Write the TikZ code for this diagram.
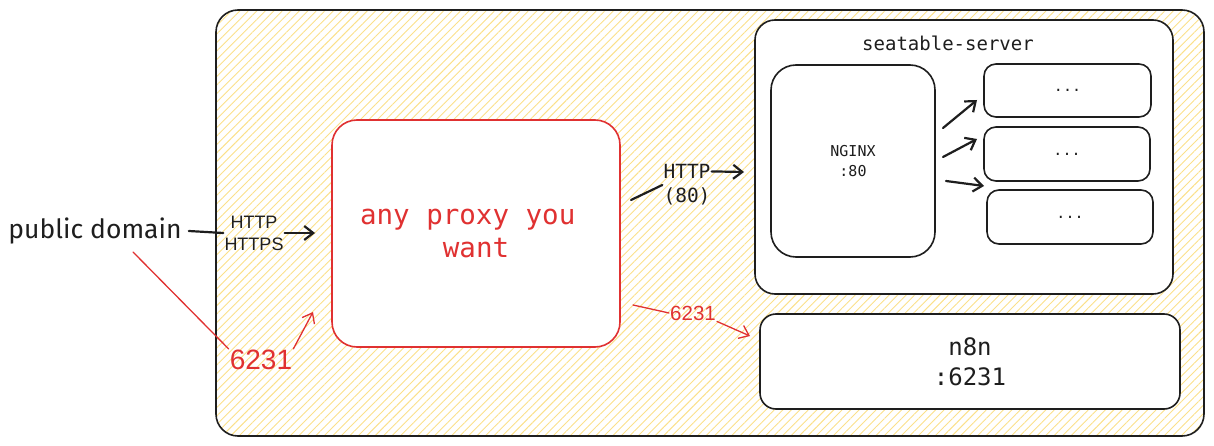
\documentclass[tikz,border=0pt]{standalone}
\usepackage{fontspec}
\setmainfont{Liberation Sans}
\newfontfamily\monof{DejaVu Sans Mono}
\newfontfamily\handf{Fira Sans}
\usetikzlibrary{arrows.meta,patterns.meta}
\definecolor{ink}{HTML}{1E1E1E}
\definecolor{redink}{HTML}{E03131}
\definecolor{hatch}{HTML}{FBE08A}
\tikzset{
  box/.style={draw=ink, line width=1.6pt, fill=white, rounded corners=#1, inner sep=0pt},
  box/.default=20pt,
  conn/.style={draw=ink, line width=2.2pt, line cap=round},
  arr/.style={conn, -{Straight Barb[length=9pt,width=14pt,line width=2.2pt]}},
  redconn/.style={draw=redink, line width=1.3pt, line cap=round},
  redarr/.style={redconn, -{Straight Barb[length=9pt,width=14pt,line width=1.3pt]}},
  lbl/.style={inner sep=1pt, align=center}
}
\begin{document}
\begin{tikzpicture}[x=1pt,y=-1pt]
\useasboundingbox (0,0) rectangle (1214,446);
% outer hatched area
\node[draw=ink, line width=1.6pt, rounded corners=22pt, minimum width=988pt, minimum height=426pt,
  pattern={Lines[angle=45,distance=6pt,line width=0.9pt]}, pattern color=hatch] (outer) at (710,223) {};
% proxy
\node[box=25pt, draw=redink, minimum width=288pt, minimum height=227pt, text=redink, align=center,
  font=\monof\fontsize{27.5}{33}\selectfont] (proxy) at (476,233.5) {any proxy you\phantom{x}\\want};
% seatable server
\node[box=20pt, minimum width=418pt, minimum height=274pt] (server) at (964,157) {};
\node[lbl, font=\monof\fontsize{19}{22}\selectfont, text=ink] (title) at (948,43) {seatable-server};
\node[box=25pt, minimum width=164pt, minimum height=192pt, align=center, text=ink,
  font=\monof\fontsize{15}{20}\selectfont] (nginx) at (853,161) {NGINX\\:80};
\node[box=12pt, minimum width=167pt, minimum height=53pt, text=ink, font=\monof\fontsize{15}{16}\selectfont] (b1) at (1067.5,90.5) {...};
\node[box=12pt, minimum width=166pt, minimum height=54pt, text=ink, font=\monof\fontsize{15}{16}\selectfont] (b2) at (1067,154) {...};
\node[box=12pt, minimum width=166pt, minimum height=54pt, text=ink, font=\monof\fontsize{15}{16}\selectfont] (b3) at (1070,217) {...};
% n8n
\node[box=16pt, minimum width=420pt, minimum height=95pt, align=center, text=ink,
  font=\monof\fontsize{24}{30}\selectfont] (n8n) at (970,361.5) {n8n\\:6231};
% left side
\node[lbl, font=\handf\fontsize{26.5}{28}\selectfont, text=ink] (pd) at (95,231) {public domain};
\node[lbl, font=\fontsize{18}{22}\selectfont, text=ink] (hl) at (254,233) {HTTP\\HTTPS};
\coordinate (pin) at (315,233);
\draw[conn] ([xshift=6pt]pd.east) -- (hl.west);
\draw[arr] (hl.east) -- (pin);
\coordinate (rs) at (133,252);
\node[lbl, font=\fontsize{28}{30}\selectfont, text=redink] (big) at (261,360) {6231};
\draw[redconn] (rs) -- (big.north west);
\coordinate (rin) at (313,312);
\draw[redarr] (big.north east) -- (rin);
% proxy to server
\node[lbl, font=\monof\fontsize{19.5}{24}\selectfont, text=ink] (h80) at (687,185) {HTTP\\(80)};
\coordinate (ps1) at (631,200);
\coordinate (ps2) at (744,172);
\draw[conn] (ps1) -- (h80.west);
\draw[arr] (h80.north east) ++(0,8) -- (ps2);
% proxy to n8n
\node[lbl, font=\fontsize{20.5}{22}\selectfont, text=redink] (s6231) at (693,313) {6231};
\coordinate (pn1) at (633,305);
\coordinate (pn2) at (750,336);
\draw[redconn] (pn1) -- (s6231.west);
\draw[redarr] (s6231.south east) -- (pn2);
% nginx to services
\coordinate (a1) at (943,128); \coordinate (a1e) at (977,100);
\coordinate (a2) at (943,157); \coordinate (a2e) at (977,139);
\coordinate (a3) at (946,181); \coordinate (a3e) at (984,186);
\draw[arr] (a1) -- (a1e);
\draw[arr] (a2) -- (a2e);
\draw[arr] (a3) -- (a3e);
\end{tikzpicture}
\end{document}
